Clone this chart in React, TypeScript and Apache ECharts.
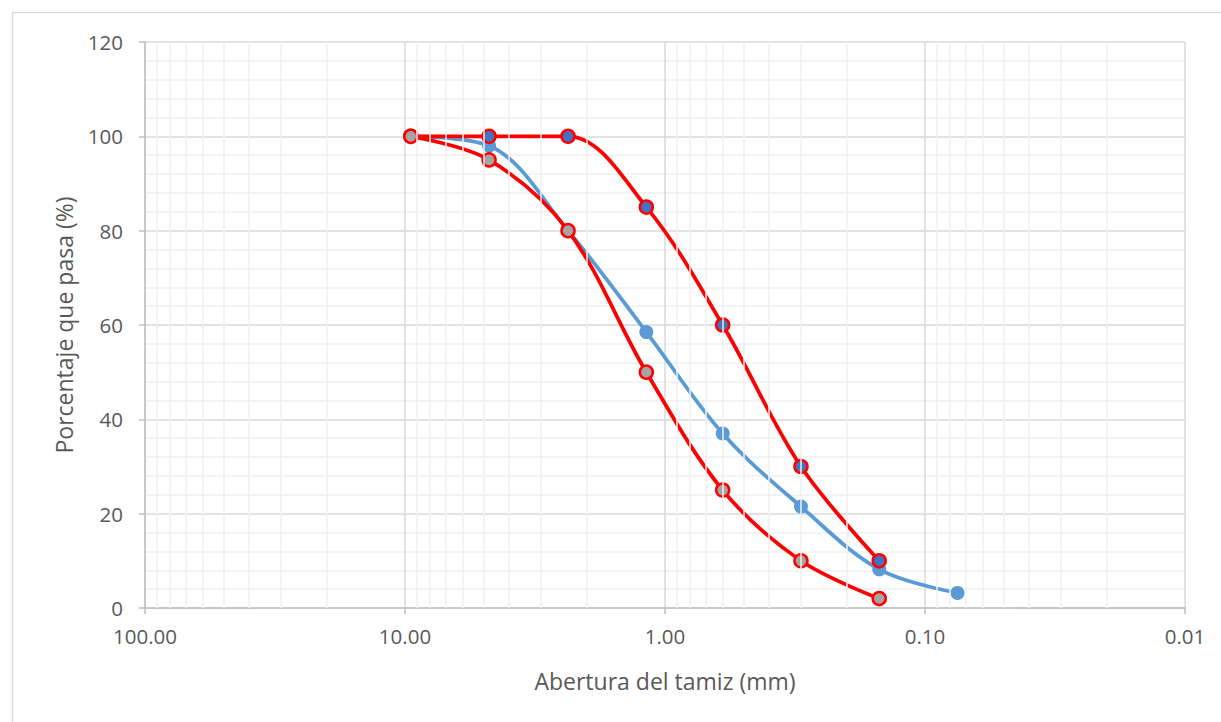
import React, { useEffect, useRef } from "react";
import * as echarts from "echarts";

const sieveSizes = [9.5, 4.75, 2.36, 1.18, 0.6, 0.3, 0.15, 0.075];
const muestra = [100, 98, 80, 58.5, 37, 21.5, 8.2, 3.2];
const limiteSuperior = [100, 100, 100, 85, 60, 30, 10];
const limiteInferior = [100, 95, 80, 50, 25, 10, 2];
const yTicks = [0, 20, 40, 60, 80, 100, 120];
const decades = [0.01, 0.1, 1, 10, 100];

const FONT = "Open Sans";

function pairs(xs: number[], ys: number[]) {
  return ys.map((y, i) => [xs[i], y]);
}

function minorPositions() {
  const out: number[] = [];
  for (let d = 0; d < decades.length - 1; d++) {
    for (let k = 2; k <= 9; k++) {
      out.push(parseFloat((decades[d] * k).toPrecision(6)));
    }
  }
  return out;
}

export default function App() {
  const ref = useRef<HTMLDivElement>(null);
  useEffect(() => {
    if (!ref.current) return;
    const chart = echarts.init(ref.current, null, { renderer: "svg" });
    const option: any = {
      animation: false,
      backgroundColor: "#ffffff",
      graphic: [
        {
          type: "rect",
          shape: { x: 12.5, y: 12.5, width: 1230, height: 730 },
          style: { fill: "none", stroke: "#D9D9D9", lineWidth: 1.5 },
          silent: true,
          z: -10,
        },
      ],
      grid: { left: 145, right: 36, top: 42, bottom: 114, containLabel: false },
      xAxis: {
        type: "log",
        logBase: 10,
        min: decades[0],
        max: decades[decades.length - 1],
        splitNumber: 4,
        inverse: true,
        name: "Abertura del tamiz (mm)",
        nameLocation: "middle",
        nameGap: 61,
        nameTextStyle: { fontFamily: FONT, fontSize: 23, color: "#595959" },
        axisLine: { show: true, onZero: false, lineStyle: { color: "#BFBFBF", width: 1.5 } },
        axisTick: { show: true, length: 6, inside: false, lineStyle: { color: "#BFBFBF", width: 1.5 } },
        axisLabel: {
          fontFamily: FONT,
          fontSize: 20.5,
          color: "#595959",
          margin: 17,
          formatter: (v: number) => v.toFixed(2),
        },
        splitLine: { show: true, lineStyle: { color: "#D9D9D9", width: 1.5 } },
      },
      yAxis: {
        type: "value",
        min: 0,
        max: 120,
        interval: 20,
        name: "Porcentaje que pasa (%)",
        nameLocation: "middle",
        nameGap: 70,
        nameTextStyle: { fontFamily: FONT, fontSize: 23, color: "#595959" },
        axisLine: { show: true, lineStyle: { color: "#BFBFBF", width: 1.5 } },
        axisTick: { show: true, length: 6, lineStyle: { color: "#BFBFBF", width: 1.5 } },
        axisLabel: {
          fontFamily: FONT,
          fontSize: 20.5,
          color: "#595959",
          margin: 22,
          formatter: (v: number) => (yTicks.includes(v) ? String(v) : ""),
        },
        splitLine: { show: true, lineStyle: { color: "#D9D9D9", width: 1.5 } },
        minorTick: { show: false, splitNumber: 5 },
        minorSplitLine: { show: true, lineStyle: { color: "#F0F0F0", width: 1.5 } },
      },
      series: [
        {
          type: "line",
          name: "minor",
          data: [],
          silent: true,
          z: 1,
          markLine: {
            silent: true,
            symbol: ["none", "none"],
            label: { show: false },
            lineStyle: { color: "#F0F0F0", width: 1.5, type: "solid" },
            data: minorPositions().map((x) => ({ xAxis: x })),
          },
        },
        {
          type: "line",
          name: "Muestra",
          data: pairs(sieveSizes, muestra),
          smooth: 0.35,
          symbol: "circle",
          symbolSize: 14,
          lineStyle: { color: "#5B9BD5", width: 3.75 },
          itemStyle: { color: "#5B9BD5", borderColor: "#5B9BD5", borderWidth: 0 },
          z: 3,
        },
        {
          type: "line",
          name: "Límite superior",
          data: pairs(sieveSizes, limiteSuperior),
          smooth: 0.35,
          symbol: "circle",
          symbolSize: 13,
          lineStyle: { color: "#FF0000", width: 3.75 },
          itemStyle: { color: "#4472C4", borderColor: "#FF0000", borderWidth: 2.5 },
          z: 4,
        },
        {
          type: "line",
          name: "Límite inferior",
          data: pairs(sieveSizes, limiteInferior),
          smooth: 0.35,
          symbol: "circle",
          symbolSize: 13,
          lineStyle: { color: "#FF0000", width: 3.75 },
          itemStyle: { color: "#A5A5A5", borderColor: "#FF0000", borderWidth: 2.5 },
          z: 4,
        },
      ],
    };
    chart.setOption(option);
    return () => chart.dispose();
  }, []);
  return (
    <div
      ref={ref}
      style={{ position: "fixed", left: 0, top: 0, width: 1221, height: 722 }}
    />
  );
}
